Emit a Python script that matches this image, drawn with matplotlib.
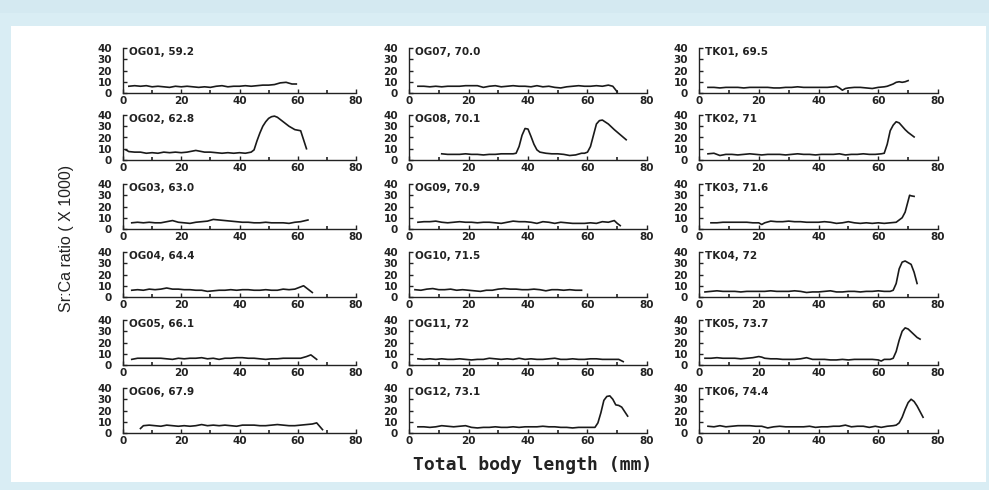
import matplotlib
matplotlib.use("Agg")
import matplotlib.pyplot as plt
from matplotlib.patches import Rectangle
from matplotlib.ticker import MultipleLocator

W, H = 989, 490

titles = ["OG01, 59.2", "OG02, 62.8", "OG03, 63.0", "OG04, 64.4", "OG05, 66.1", "OG06, 67.9",
          "OG07, 70.0", "OG08, 70.1", "OG09, 70.9", "OG10, 71.5", "OG11, 72", "OG12, 73.1",
          "TK01, 69.5", "TK02, 71", "TK03, 71.6", "TK04, 72", "TK05, 73.7", "TK06, 74.4"]

og01_x = [2, 4, 6, 8, 10, 12, 14, 16, 18, 20, 22, 24, 26, 28, 30, 32, 34, 36, 38, 40, 42, 44, 46, 48, 50, 52, 54, 56, 58, 59.5]
og01_y = [6, 6.5, 6, 6.5, 5.5, 6, 5.5, 5, 6, 5.5, 6, 5.5, 5, 5.5, 5, 6, 6.5, 5.5, 6, 6, 6.5, 6, 6.5, 7, 7, 7.5, 9, 9.5, 8, 8]

og02_x = [1, 2, 4, 6, 8, 10, 12, 14, 16, 18, 20, 22, 24, 25, 26, 28, 30, 32, 34, 36, 38, 40, 42, 44, 45, 46, 47, 48, 49, 50, 51, 52, 53, 54, 55, 56, 57, 58, 59, 60, 61, 62, 63]
og02_y = [9, 7.5, 7, 7, 6, 6.5, 6, 7, 6.5, 7, 6.5, 7, 8, 8.5, 8, 7, 7, 6.5, 6, 6.5, 6, 6.5, 6, 7, 9, 17, 24, 30, 34, 37, 38.5, 39, 38, 36, 34, 32, 30, 28.5, 27, 26.5, 26, 18, 10]

og03_x = [3, 5, 7, 9, 11, 13, 15, 17, 19, 21, 23, 25, 27, 29, 31, 33, 35, 37, 39, 41, 43, 45, 47, 49, 51, 53, 55, 57, 59, 61, 63.5]
og03_y = [5.5, 6, 5.5, 6, 5.5, 5.5, 6.5, 7.5, 6, 5.5, 5, 6, 6.5, 7, 8.5, 8, 7.5, 7, 6.5, 6, 6, 5.5, 5.5, 6, 5.5, 5.5, 5.5, 5, 6, 6.5, 8]

og04_x = [3, 5, 7, 9, 11, 13, 15, 17, 19, 21, 23, 25, 27, 29, 31, 33, 35, 37, 39, 41, 43, 45, 47, 49, 51, 53, 55, 57, 59, 61, 62, 63, 64, 65]
og04_y = [6, 6.5, 6, 7, 6.5, 7, 8, 7, 7, 6.5, 6.5, 6, 6, 5, 5.5, 6, 6, 6.5, 6, 6.5, 6.5, 6, 6, 6.5, 6, 6, 7, 6.5, 7, 9, 10, 8, 6, 4]

og05_x = [3, 5, 7, 9, 11, 13, 15, 17, 19, 21, 23, 25, 27, 29, 31, 33, 35, 37, 39, 41, 43, 45, 47, 49, 51, 53, 55, 57, 59, 61, 63, 64.5, 66.5]
og05_y = [5, 6, 6, 6, 6, 6, 5.5, 5, 6, 5.5, 6, 6, 6.5, 5.5, 6, 5, 6, 6, 6.5, 6.5, 6, 6, 5.5, 5, 5.5, 5.5, 6, 6, 6, 6, 7.5, 9, 5]

og06_x = [6, 7, 9, 11, 13, 15, 17, 19, 21, 23, 25, 27, 29, 31, 33, 35, 37, 39, 41, 43, 45, 47, 49, 51, 53, 55, 57, 59, 61, 63, 65, 66.5, 68.5]
og06_y = [4, 6.5, 7, 6.5, 6, 7, 6.5, 6, 6.5, 6, 6.5, 7.5, 6.5, 7, 6.5, 7, 6.5, 6, 7, 7, 7, 6.5, 6.5, 7, 7.5, 7, 6.5, 6.5, 7, 7.5, 8, 9, 3]

og07_x = [3, 5, 7, 9, 11, 13, 15, 17, 19, 21, 23, 25, 27, 29, 31, 33, 35, 37, 39, 41, 43, 45, 47, 49, 51, 53, 55, 57, 59, 61, 63, 65, 67, 68.5, 70]
og07_y = [6, 6, 5.5, 6, 5.5, 6, 6, 6, 6.5, 6.5, 6.5, 5, 6, 6.5, 5.5, 6, 6.5, 6, 6, 5.5, 6.5, 5.5, 6, 5, 4.5, 5.5, 6, 6.5, 6, 6, 6.5, 6, 7, 6, 1]

og08_x = [11, 13, 15, 17, 19, 21, 23, 25, 27, 29, 31, 33, 35, 36, 37, 38, 39, 40, 41, 42, 43, 44, 46, 48, 50, 52, 54, 56, 58, 59, 60, 61, 62, 63, 64, 65, 67, 69, 71, 73]
og08_y = [5.5, 5, 5, 5, 5.5, 5, 5, 4.5, 5, 5, 5.5, 5.5, 5.5, 6, 12, 22, 28, 27.5, 21, 14, 9, 7, 6, 5.5, 5.5, 5, 4, 4.5, 6, 6, 7, 12, 22, 32, 35, 35.5, 32, 27, 22.5, 18]

og09_x = [3, 5, 7, 9, 11, 13, 15, 17, 19, 21, 23, 25, 27, 29, 31, 33, 35, 37, 39, 41, 43, 45, 47, 49, 51, 53, 55, 57, 59, 61, 63, 65, 67, 69, 70, 71]
og09_y = [6, 6.5, 6.5, 7, 6, 5.5, 6, 6.5, 6, 6, 5.5, 6, 6, 5.5, 5, 6, 7, 6.5, 6.5, 6, 5, 6.5, 6, 5, 6, 5.5, 5, 5, 5, 5.5, 5, 6.5, 6, 7.5, 5, 3]

og10_x = [2, 4, 6, 8, 10, 12, 14, 16, 18, 20, 22, 24, 26, 28, 30, 32, 34, 36, 38, 40, 42, 44, 46, 48, 50, 52, 54, 56, 58]
og10_y = [6.5, 6, 7, 7.5, 6.5, 6.5, 7, 6, 6.5, 6, 5.5, 5, 6, 6, 7, 7.5, 7, 7, 6.5, 6.5, 7, 6.5, 5.5, 6.5, 6.5, 6, 6.5, 6, 6]

og11_x = [3, 5, 7, 9, 11, 13, 15, 17, 19, 21, 23, 25, 27, 29, 31, 33, 35, 37, 39, 41, 43, 45, 47, 49, 51, 53, 55, 57, 59, 61, 63, 65, 67, 69, 70.5, 72]
og11_y = [5.5, 5, 5.5, 5, 5.5, 5, 5, 5.5, 5, 4.5, 5, 5, 6, 5.5, 5, 5.5, 5, 6, 5, 5.5, 5, 5, 5.5, 6, 5, 5, 5.5, 5, 5, 5.5, 5.5, 5, 5, 5, 5, 3]

og12_x = [3, 5, 7, 9, 11, 13, 15, 17, 19, 21, 23, 25, 27, 29, 31, 33, 35, 37, 39, 41, 43, 45, 47, 49, 51, 53, 55, 57, 59, 61, 62.5, 63.5, 64.5, 65.5, 66.5, 67.5, 68.5, 69.5, 70.5, 71.5, 72.5, 73.5]
og12_y = [5.5, 5.5, 5, 5.5, 6.5, 6, 5.5, 6, 6.5, 5, 4.5, 5, 5, 5.5, 5, 5, 5.5, 5, 5.5, 5.5, 5.5, 6, 5.5, 5.5, 5, 5, 4.5, 5, 5, 5, 5, 9, 18, 29, 32.5, 33, 30, 25, 24.5, 23, 19, 15]

tk01_x = [3, 5, 7, 9, 11, 13, 15, 17, 19, 21, 23, 25, 27, 29, 31, 33, 35, 37, 39, 41, 43, 45, 46, 47, 48, 49, 50, 52, 54, 56, 58, 60, 62, 63, 64, 65, 66, 67, 68, 69, 70]
tk01_y = [5, 5, 4.5, 5, 5, 5, 4.5, 5, 5, 5, 5, 4.5, 4.5, 5, 5, 5.5, 5, 5, 5, 5, 5, 5.5, 6, 4.5, 2.5, 4, 4.5, 5, 5, 4.5, 4, 5, 5.5, 6, 7, 8, 9.5, 10, 9.5, 10, 11]

tk02_x = [3, 5, 7, 9, 11, 13, 15, 17, 19, 21, 23, 25, 27, 29, 31, 33, 35, 37, 39, 41, 43, 45, 47, 49, 51, 53, 55, 57, 59, 61, 62, 63, 64, 65, 66, 67, 68, 69, 70, 71, 72]
tk02_y = [5.5, 6, 4, 5, 5, 4.5, 5, 5.5, 5, 4.5, 5, 5, 5, 4.5, 5, 5.5, 5, 5, 4.5, 5, 5, 5, 5.5, 4.5, 5, 5, 5.5, 5, 5, 5.5, 6, 14, 26, 31, 34, 33, 30, 27, 24.5, 22.5, 20.5]

tk03_x = [4, 6, 8, 10, 12, 14, 16, 18, 20, 21, 22, 24, 26, 28, 30, 32, 34, 36, 38, 40, 42, 44, 46, 48, 50, 52, 54, 56, 58, 60, 62, 64, 66, 67, 68, 69, 70, 70.5, 71, 72]
tk03_y = [5.5, 5.5, 6, 6, 6, 6, 6, 5.5, 5.5, 4, 5.5, 7, 6.5, 6.5, 7, 6.5, 6.5, 6, 6, 6, 6.5, 6, 5, 5.5, 6.5, 5.5, 5, 5.5, 5, 5.5, 5, 5.5, 6, 8, 10, 15, 25, 30, 29.5, 29]

tk04_x = [2, 4, 6, 8, 10, 12, 14, 16, 18, 20, 22, 24, 26, 28, 30, 32, 34, 36, 38, 40, 42, 44, 46, 48, 50, 52, 54, 56, 58, 60, 62, 64, 65, 66, 67, 68, 69, 70, 71, 72, 73]
tk04_y = [4.5, 5, 5.5, 5, 5, 5, 4.5, 5, 5, 5, 5, 5.5, 5, 5, 5, 5.5, 5, 4, 4.5, 4.5, 5, 5.5, 4.5, 4.5, 5, 5, 4.5, 5, 5, 5.5, 5, 5, 6, 12, 25, 31, 32, 30.5, 29, 22, 12]

tk05_x = [2, 4, 6, 8, 10, 12, 14, 16, 18, 20, 21, 22, 24, 26, 28, 30, 32, 34, 36, 38, 40, 42, 44, 46, 48, 50, 52, 54, 56, 58, 60, 61, 62, 64, 65, 66, 67, 68, 69, 70, 71, 72, 73, 74]
tk05_y = [6, 6, 6.5, 6, 6, 6, 5.5, 6, 6.5, 7.5, 7, 6, 5.5, 5.5, 5, 5, 5, 5.5, 6.5, 5, 5, 5, 4.5, 4.5, 5, 4.5, 5, 5, 5, 5, 4.5, 3.5, 5, 5, 6, 12, 22, 30, 33, 32, 29.5, 27, 24.5, 23]

tk06_x = [3, 5, 7, 9, 11, 13, 15, 17, 19, 21, 23, 25, 27, 29, 31, 33, 35, 37, 39, 41, 43, 45, 47, 49, 51, 53, 55, 57, 59, 61, 63, 65, 66, 67, 68, 69, 70, 71, 72, 73, 74, 75]
tk06_y = [6, 5.5, 6.5, 5.5, 6, 6.5, 6.5, 6.5, 6, 6, 4.5, 5.5, 6, 5.5, 5.5, 5.5, 5.5, 6, 5, 5.5, 5.5, 6, 6, 7, 5.5, 6, 6, 5, 6, 5, 6, 6.5, 7, 9, 14, 21, 27, 30, 28, 24, 19, 14]

series = [(og01_x, og01_y), (og02_x, og02_y), (og03_x, og03_y), (og04_x, og04_y), (og05_x, og05_y), (og06_x, og06_y),
          (og07_x, og07_y), (og08_x, og08_y), (og09_x, og09_y), (og10_x, og10_y), (og11_x, og11_y), (og12_x, og12_y),
          (tk01_x, tk01_y), (tk02_x, tk02_y), (tk03_x, tk03_y), (tk04_x, tk04_y), (tk05_x, tk05_y), (tk06_x, tk06_y)]

x_ticks = [0, 20, 40, 60, 80]
y_ticks = [0, 10, 20, 30, 40]

# layout (pixels)
col_left = [123, 409, 699]
col_width = [233, 238, 239]
row_base = [93, 160, 229, 297, 365, 433]
ax_h = 45

fig = plt.figure(figsize=(W / 100, H / 100), dpi=100)
fig.patch.set_facecolor("#d9edf4")
fig.patches.append(Rectangle((0, 1 - 13 / H), 1, 13 / H, transform=fig.transFigure,
                             facecolor="#d4e9f1", edgecolor="none", zorder=-10))
fig.patches.append(Rectangle((11 / W, 1 - 482 / H), (986 - 11) / W, (482 - 26) / H,
                             transform=fig.transFigure, facecolor="white", edgecolor="none", zorder=-10))

ink = "#222222"

for i, ((xs, ys), title) in enumerate(zip(series, titles)):
    c, r = divmod(i, 6)
    left = col_left[c] / W
    bottom = 1 - row_base[r] / H
    ax = fig.add_axes([left, bottom, col_width[c] / W, ax_h / H])
    ax.set_zorder(5)
    ax.patch.set_alpha(0)
    ax.plot(xs, ys, color="#1a1a1a", lw=1.2, solid_joinstyle="round")
    ax.set_xlim(0, 80)
    ax.set_ylim(0, 40)
    ax.set_xticks(x_ticks)
    ax.set_yticks(y_ticks)
    ax.xaxis.set_minor_locator(MultipleLocator(10))
    for s in ("top", "right"):
        ax.spines[s].set_visible(False)
    for s in ("left", "bottom"):
        ax.spines[s].set_color(ink)
        ax.spines[s].set_linewidth(1.0)
    ax.tick_params(axis="both", which="major", direction="in", length=3, width=1.0, color=ink)
    ax.tick_params(axis="x", which="minor", direction="in", length=2, width=1.2, color=ink)
    ax.tick_params(axis="y", which="major", pad=8)
    ax.tick_params(axis="x", which="major", pad=2)
    for lab in ax.get_xticklabels() + ax.get_yticklabels():
        lab.set_fontfamily("DejaVu Sans")
        lab.set_fontweight("bold")
        lab.set_fontsize(7.5)
        lab.set_color(ink)
    ax.text(0.025, 1.03, title, transform=ax.transAxes, ha="left", va="top",
            fontfamily="DejaVu Sans", fontweight="bold", fontsize=7.5, color=ink)

fig.text(66 / W, 1 - 238 / H, "Sr:Ca ratio ( X 1000)", rotation=90, ha="center", va="center",
         fontfamily="Liberation Sans", fontsize=11.5, color=ink)
fig.text(533 / W, 1 - 465 / H, "Total body length (mm)", ha="center", va="center",
         fontfamily="DejaVu Sans Mono", fontweight="bold", fontsize=13, color=ink)

fig.savefig("out.png", dpi=100, facecolor=fig.get_facecolor())
